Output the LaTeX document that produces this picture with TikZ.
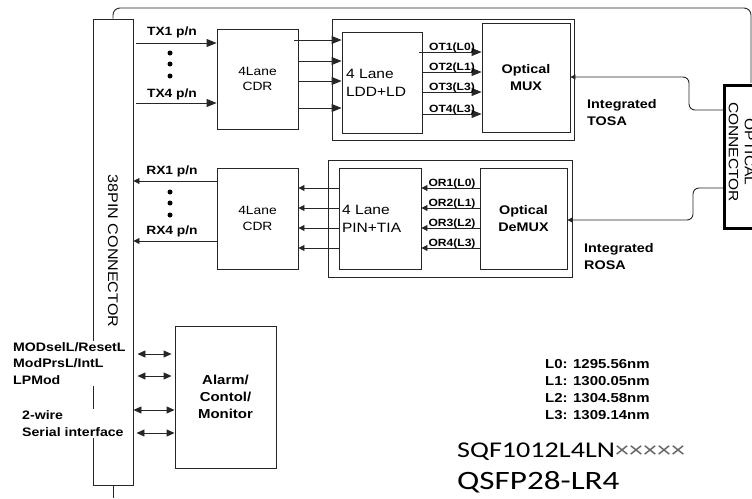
\documentclass[tikz,border=0pt]{standalone}
\usepackage{fontspec}
\setmainfont[FakeStretch=1.15]{Liberation Sans}
\newfontfamily\partfont[FakeStretch=1.25]{Carlito}
\usetikzlibrary{arrows.meta,calc}
\newcommand\myfs[2]{\fontsize{#1}{#2}\selectfont}
\begin{document}
\begin{tikzpicture}[x=1pt,y=-1pt,
  box/.style={draw=black!85,line width=0.9pt,inner sep=0pt},
  ln/.style={draw=black!85,line width=0.9pt},
  arr/.style={ln,-{Triangle[length=10pt,width=8pt]}},
  arrs/.style={ln,-{Triangle[length=6pt,width=6pt]}},
  darr/.style={ln,{Triangle[length=8pt,width=7pt]}-{Triangle[length=8pt,width=7pt]}},
  fib/.style={ln,rounded corners=6pt,-{Triangle[length=5pt,width=5pt]}},
  lbl/.style={font=\bfseries\myfs{12}{14},inner sep=0pt},
  olbl/.style={font=\bfseries\myfs{10.5}{12},inner sep=0pt,anchor=base},
  dot/.style={fill=black}]
\useasboundingbox (0,0) rectangle (752,498);

% 38 pin connector
\node[box,minimum width=40,minimum height=466] (conn) at (113,252) {};
\node[rotate=-90,font=\myfs{14}{16}] (conntext) at (113,251) {38PIN CONNECTOR};

% module outline
\draw[ln,rounded corners=7pt] (conn.north) -- (113,8) -- (751,8) -- (751,83);
\draw[ln] (conn.south) -- (113,498);

% TX path
\node[box,minimum width=81,minimum height=100,font=\myfs{12}{15.5},align=center] (cdrT) at (257.5,79) {4Lane\\CDR};
\node[box,minimum width=242,minimum height=121] (tosa) at (453,79.5) {};
\node[box,minimum width=80,minimum height=101,text width=72,inner xsep=4pt,align=left,font=\myfs{13.5}{18}] (ldd) at (382,82.5) {4 Lane\\LDD+LD};
\node[box,minimum width=88,minimum height=109,align=center,font=\bfseries\myfs{12.5}{17}] (mux) at (526,77.5) {Optical\\MUX};

\draw[arr] ($(conn.east|-0,43)+(3,0)$) -- (cdrT.west|-0,43);
\draw[arr] ($(conn.east|-0,103)+(3,0)$) -- (cdrT.west|-0,103);
\node[lbl] (tx1) at (172,32.5) {TX1 p/n};
\node[lbl] (tx4) at (172,94) {TX4 p/n};
\fill[dot] (170,53) circle (2.5pt);
\fill[dot] (170,64) circle (2.5pt);
\fill[dot] (170,76) circle (2.5pt);

\draw[arr] ($(cdrT.east|-0,40)+(-4,0)$) -- (ldd.west|-0,40);
\draw[arr] (cdrT.east|-0,61) -- (ldd.west|-0,61);
\draw[arr] (cdrT.east|-0,81) -- (ldd.west|-0,81);
\draw[arr] (cdrT.east|-0,108) -- (ldd.west|-0,108);

\draw[arr] ($(ldd.east|-0,52)+(-3,0)$) -- (mux.west|-0,52);
\draw[arr] (ldd.east|-0,72) -- (mux.west|-0,72);
\draw[arr] (ldd.east|-0,92) -- (mux.west|-0,92);
\draw[arr] (ldd.east|-0,114) -- (mux.west|-0,114);
\node[olbl] (ot1) at (452,50.5) {OT1(L0)};
\node[olbl] (ot2) at (452,70.5) {OT2(L1)};
\node[olbl] (ot3) at (452,90.5) {OT3(L3)};
\node[olbl] (ot4) at (452,112.5) {OT4(L3)};

\node[align=left,anchor=west,inner sep=0pt,font=\bfseries\myfs{12.5}{17}] (tosalbl) at (587,112.5) {Integrated\\TOSA};

% RX path
\node[box,minimum width=81,minimum height=101,font=\myfs{12}{15.5},align=center] (cdrR) at (257.5,218.5) {4Lane\\CDR};
\node[box,minimum width=244,minimum height=117] (rosa) at (450,218.5) {};
\node[box,minimum width=82,minimum height=101,text width=76,inner xsep=3pt,align=left,font=\myfs{13.5}{18}] (pin) at (380,218.5) {4 Lane\\PIN+TIA};
\node[box,minimum width=87,minimum height=101,align=center,font=\bfseries\myfs{12.5}{17}] (demux) at (523.5,218.5) {Optical\\DeMUX};

% optical connector
\node[draw=black,line width=2.8pt,minimum width=70,minimum height=143,anchor=north west,inner sep=0pt] (optc) at (723.4,84.4) {};
\node[rotate=-90,align=center,font=\myfs{13.5}{16}] (optctext) at (741.5,152) {OPTICAL\\CONNECTOR};

\draw[fib] (optc.west|-0,110) -- (689,110) -- (689,77) -- (mux.east|-0,77);
\draw[fib] (optc.west|-0,188) -- (693,188) -- (693,220) -- (demux.east|-0,220);

\draw[arrs] (demux.west|-0,188) -- (pin.east|-0,188);
\draw[arrs] (demux.west|-0,208) -- (pin.east|-0,208);
\draw[arrs] (demux.west|-0,228) -- (pin.east|-0,228);
\draw[arrs] (demux.west|-0,248) -- (pin.east|-0,248);
\node[olbl] (or1) at (452,186.5) {OR1(L0)};
\node[olbl] (or2) at (452,206.5) {OR2(L1)};
\node[olbl] (or3) at (452,226.5) {OR3(L2)};
\node[olbl] (or4) at (452,246.5) {OR4(L3)};

\draw[arrs] (pin.west|-0,188) -- (cdrR.east|-0,188);
\draw[arrs] (pin.west|-0,208) -- (cdrR.east|-0,208);
\draw[arrs] (pin.west|-0,228) -- (cdrR.east|-0,228);
\draw[arrs] (pin.west|-0,248) -- (cdrR.east|-0,248);

\draw[arrs] (cdrR.west|-0,181) -- (conn.east|-0,181);
\draw[arrs] (cdrR.west|-0,241) -- (conn.east|-0,241);
\node[lbl] (rx1) at (172,171) {RX1 p/n};
\node[lbl] (rx4) at (172,231) {RX4 p/n};
\fill[dot] (170,192) circle (2.5pt);
\fill[dot] (170,203) circle (2.5pt);
\fill[dot] (170,215) circle (2.5pt);

\node[align=left,anchor=west,inner sep=0pt,font=\bfseries\myfs{12.5}{17}] (rosalbl) at (584,256.5) {Integrated\\ROSA};

% control
\node[box,minimum width=101,minimum height=142,align=center,font=\bfseries\myfs{13}{17}] (alarm) at (225.5,397) {Alarm/\\Contol/\\Monitor};
\node[fill=white,inner sep=1pt,align=left,anchor=west,font=\bfseries\myfs{12.3}{16.5}] (sig1) at (12,363.5) {MODselL/ResetL\\ModPrsL/IntL\\LPMod};
\node[fill=white,inner sep=1pt,align=left,anchor=west,font=\bfseries\myfs{12.3}{17}] (sig2) at (21,423.5) {2-wire\\Serial interface};
\draw[darr] ($(conn.east|-0,354)+(4,0)$) -- ($(alarm.west|-0,354)+(-3,0)$);
\draw[darr] ($(conn.east|-0,376)+(4,0)$) -- ($(alarm.west|-0,376)+(-3,0)$);
\draw[darr] (conn.east|-0,410) -- (alarm.west|-0,410);
\draw[darr] ($(conn.east|-0,433)+(3,0)$) -- (alarm.west|-0,433);

% wavelengths and part numbers
\node[align=left,anchor=west,inner sep=0pt,font=\bfseries\myfs{13}{17}] (wl) at (545,389.5) {L0: 1295.56nm\\L1: 1300.05nm\\L2: 1304.58nm\\L3: 1309.14nm};
\node[anchor=west,inner sep=0pt,font=\partfont\myfs{22.5}{26}] (pn) at (457,452) {SQF1012L4LN{\color{black!60}×××××}};
\node[anchor=west,inner sep=0pt,font=\partfont\myfs{26.5}{30}] (model) at (457,482) {QSFP28-LR4};
\end{tikzpicture}
\end{document}
